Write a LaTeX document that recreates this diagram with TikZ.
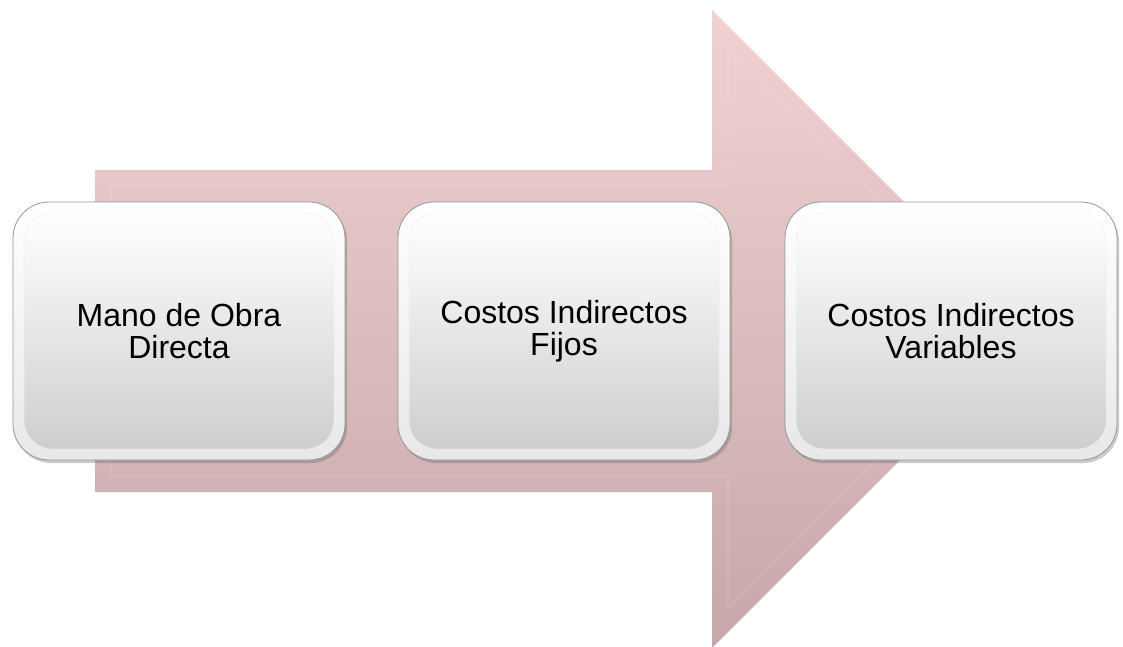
\documentclass[tikz,border=0pt]{standalone}
\usepackage{fontspec}
\setmainfont{Liberation Sans}
\usetikzlibrary{shadows}
\definecolor{arrowtop}{RGB}{240,210,211}
\definecolor{arrowbot}{RGB}{198,168,170}
\definecolor{boxbot}{RGB}{206,206,206}
\definecolor{rimbot}{RGB}{232,232,232}
\definecolor{boxedge}{RGB}{150,150,150}
\tikzset{
  boxouter/.style={rounded corners=36pt, draw=boxedge, line width=0.8pt,
    top color=white, bottom color=rimbot,
    drop shadow={shadow xshift=2pt, shadow yshift=-3pt, opacity=0.35, fill=black!60}},
  boxinner/.style={rounded corners=28pt, draw=black!6, line width=0.5pt,
    top color=white, bottom color=boxbot},
  boxtext/.style={align=center, font=\fontsize{32}{32}\selectfont, text=black, inner sep=0pt}
}
\begin{document}
\begin{tikzpicture}[x=1pt,y=-1pt]
\useasboundingbox (0,0) rectangle (1123,647);
% big arrow
\path[top color=arrowtop, bottom color=arrowbot]
  (95,170) -- (712,170) -- (712,10) -- (1031,329) -- (712,648) -- (712,492) -- (95,492) -- cycle;
\draw[white, opacity=0.15, line width=1.2pt]
  (111,186) -- (728,186) -- (728,49) -- (1008,329) -- (728,609) -- (728,476) -- (111,476) -- cycle;
% boxes
\foreach \n/\xa in {a/13, b/398, c/785}{
  \path[boxouter] (\xa,202) rectangle ++(332,258);
  \path[boxinner] (\xa+11,213) rectangle ++(310,236);
}
\node[boxtext] (ta) at (179,331) {Mano de Obra\\Directa};
\node[boxtext] (tb) at (564,331) {Costos Indirectos\\Fijos};
\node[boxtext] (tc) at (951,331) {Costos Indirectos\\Variables};
\end{tikzpicture}
\end{document}
